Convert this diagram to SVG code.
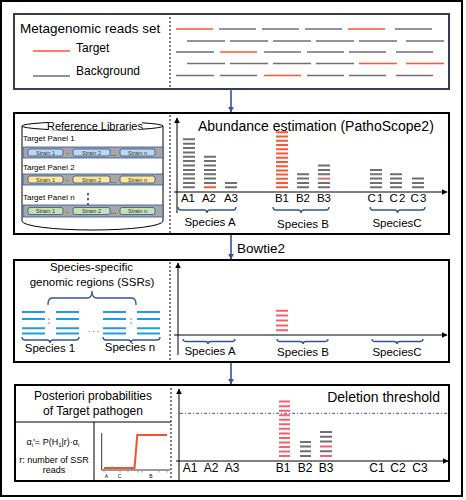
<svg xmlns="http://www.w3.org/2000/svg" width="466" height="500" viewBox="0 0 466 500">
<style>
.t{font-family:"Liberation Sans",Arial,sans-serif;fill:#000}
.m{text-anchor:middle}
.rg{stroke:#707070;stroke-width:1.6;fill:none}
.rr{stroke:#ff5533;stroke-width:1.6;fill:none}
.bg{stroke:#6f6f6f;stroke-width:2;fill:none}
.br{stroke:#ff5533;stroke-width:2;fill:none}
.bp{stroke:#f5606e;stroke-width:2;fill:none}
.dv{stroke:#000;stroke-width:1;stroke-dasharray:2 2;fill:none}
.ax{stroke:#000;stroke-width:1;fill:none}
.brace{stroke:#2f5597;stroke-width:1.3;fill:none}
.panel{fill:#fff;stroke:#000;stroke-width:2}
.band{stroke:#2f5597;stroke-width:0.8}
.pill{stroke:#2f5597;stroke-width:0.8}
.ps{font-family:"Liberation Sans",Arial,sans-serif;font-size:5.5px;text-anchor:middle;fill:#333}
.bl{stroke:#1f9de0;stroke-width:2;fill:none}
.con{stroke:#2f5597;stroke-width:1.6;fill:none}
</style>
<defs>
<marker id="ah" viewBox="0 0 10 10" refX="9" refY="5" markerWidth="6" markerHeight="6" markerUnits="userSpaceOnUse" orient="auto"><path d="M0,0L10,5L0,10z" fill="#2f5597"/></marker>
<marker id="ak" viewBox="0 0 10 10" refX="9" refY="5" markerWidth="6" markerHeight="6" markerUnits="userSpaceOnUse" orient="auto"><path d="M0,0L10,5L0,10z" fill="#000"/></marker>
</defs>
<rect x="1" y="1" width="461" height="495" fill="#fff" stroke="#000" stroke-width="2"/>

<g id="reads-panel">
<rect x="14" y="14" width="435" height="75" fill="#fff" stroke="#333f50" stroke-width="2"/>
<line class="dv" x1="170" y1="17" x2="170" y2="88"/>
<text class="t" x="20" y="32.5" font-size="13.5">Metagenomic reads set</text>
<line class="rr" x1="33" y1="51" x2="70" y2="51"/>
<text class="t" x="76" y="52" font-size="12">Target</text>
<line class="rg" x1="33" y1="76" x2="70" y2="76"/>
<text class="t" x="76" y="75" font-size="12">Background</text>
<path class="rr" d="M176 29H213M348 29H385M220 52H257M359 63.5H397M406 63.5H444M264 75.5H301"/>
<path class="rg" d="M219 29H256M262 29H299M305 29H342M395 29H432M187 41H225M230 41H268M273 41H311M316 41H354M359 41H397M406 41H444M176 52H214M264 52H301M307 52H344M349 52H386M396 52H433M187 63.5H225M230 63.5H268M273 63.5H311M316 63.5H354M176 75.5H214M220 75.5H257M307 75.5H344M349 75.5H386M396 75.5H433"/>
</g>

<g id="abundance-panel">
<rect class="panel" x="14" y="113" width="435" height="121"/>
<line class="dv" x1="170" y1="115" x2="170" y2="233"/>
<g id="reference-libraries">
<path d="M22,126V221A70.5,9 0 0 0 163,221V126" fill="#fff" stroke="#000" stroke-width="1"/>
<ellipse cx="92.5" cy="126" rx="70.5" ry="4.5" fill="#fff" stroke="#000" stroke-width="1"/>
<rect x="48" y="121" width="94" height="9" fill="#fff"/>
<text class="t m" x="95" y="129.5" font-size="11">Reference Libraries</text>
<text class="t" x="23" y="141" font-size="8">Target Panel 1</text>
<rect class="band" x="23" y="147" width="140" height="11" fill="#a6a6a6"/>
<rect class="pill" x="28" y="149" width="35" height="7" rx="2" fill="#bdd7ee"/>
<rect class="pill" x="73" y="149" width="37" height="7" rx="2" fill="#bdd7ee"/>
<rect class="pill" x="120" y="149" width="35" height="7" rx="2" fill="#bdd7ee"/>
<text class="ps" x="45.5" y="154.5">Strain 1</text><text class="ps" x="91.5" y="154.5">Strain 2</text><text class="ps" x="137.5" y="154.5">Strain n</text>
<text class="t" x="66.5" y="155" font-size="6">-</text><text class="t" x="110.5" y="155.5" font-size="7">...</text>
<text class="t" x="23" y="170" font-size="8">Target Panel 2</text>
<rect class="band" x="23" y="174" width="140" height="11" fill="#a6a6a6"/>
<rect class="pill" x="28" y="176" width="35" height="7" rx="2" fill="#ffe699"/>
<rect class="pill" x="73" y="176" width="37" height="7" rx="2" fill="#ffe699"/>
<rect class="pill" x="120" y="176" width="35" height="7" rx="2" fill="#ffe699"/>
<text class="ps" x="45.5" y="181.5">Strain 1</text><text class="ps" x="91.5" y="181.5">Strain 2</text><text class="ps" x="137.5" y="181.5">Strain n</text>
<text class="t" x="66.5" y="182" font-size="6">-</text><text class="t" x="110.5" y="182.5" font-size="7">...</text>
<text class="t" x="23" y="200" font-size="8">Target Panel n</text>
<path d="M88 193v2.2M88 198v2.2M88 203v2.2" stroke="#1f3864" stroke-width="1.6"/>
<rect class="band" x="23" y="205" width="140" height="12" fill="#a6a6a6"/>
<rect class="pill" x="28" y="207.5" width="35" height="7" rx="2" fill="#c5e0b4"/>
<rect class="pill" x="73" y="207.5" width="37" height="7" rx="2" fill="#c5e0b4"/>
<rect class="pill" x="120" y="207.5" width="35" height="7" rx="2" fill="#c5e0b4"/>
<text class="ps" x="45.5" y="213">Strain 1</text><text class="ps" x="91.5" y="213">Strain 2</text><text class="ps" x="137.5" y="213">Strain n</text>
<text class="t" x="66.5" y="213.5" font-size="6">-</text><text class="t" x="110.5" y="214" font-size="7">...</text>
</g>
<line class="ax" x1="177" y1="213" x2="177" y2="118" marker-end="url(#ak)"/>
<line class="ax" x1="174" y1="192" x2="447" y2="192" marker-end="url(#ak)"/>
<text class="t" x="198" y="131" font-size="14">Abundance estimation (PathoScope2)</text>
<path class="bg" d="M183 187.3h12M183 182.9h12M183 178.6h12M183 174.2h12M183 169.9h12M183 165.5h12M183 161.1h12M183 156.8h12M183 152.4h12M183 148.1h12M183 143.7h12M183 139.3h12M204 182.9h12M204 178.6h12M204 174.2h12M204 169.9h12M204 165.5h12M204 161.1h12M204 156.8h12M225 187.3h12M225 182.9h12M297 187.3h12M297 182.9h12M297 178.6h12M297 174.2h12M318 187.3h12M318 182.9h12M318 174.2h12M318 169.9h12M318 165.5h12M370 187.3h12M370 182.9h12M370 178.6h12M370 174.2h12M370 169.9h12M390 187.3h12M390 182.9h12M390 178.6h12M390 174.2h12M412 187.3h12M412 182.9h12M412 178.6h12"/>
<path class="br" d="M204 187.3h12M276 187.3h12M276 183.1h12M276 178.8h12M276 174.6h12M276 170.4h12M276 166.2h12M276 161.9h12M276 157.7h12M276 153.5h12M276 149.2h12M276 145h12M276 140.8h12M276 136.5h12M276 132.3h12"/>
<path class="bp" d="M318 178.6h12"/>
<g class="t m" font-size="11.5">
<text x="188" y="202">A1</text><text x="209" y="202">A2</text><text x="231" y="202">A3</text>
<text x="282" y="202">B1</text><text x="303" y="202">B2</text><text x="324" y="202">B3</text>
<text x="376" y="202" letter-spacing="1.2">C1</text><text x="398" y="202" letter-spacing="1.2">C2</text><text x="419" y="202" letter-spacing="1.2">C3</text>
</g>
<path class="brace" d="M178,207Q178,210 181,210H204Q207,210 207,213Q207,210 210,210H233Q236,210 236,207"/>
<path class="brace" d="M273,207Q273,210 276,210H298Q301,210 301,213Q301,210 304,210H326Q329,210 329,207"/>
<path class="brace" d="M370,207Q370,210 373,210H394.5Q397.5,210 397.5,213Q397.5,210 400.5,210H422Q425,210 425,207"/>
<g class="t m" font-size="11.5">
<text x="210" y="226">Species A</text><text x="303" y="227.5">Species B</text><text x="397" y="226.5">SpeciesC</text>
</g>
</g>

<g id="ssr-panel">
<rect class="panel" x="14" y="260" width="435" height="102"/>
<line class="dv" x1="170" y1="262" x2="170" y2="361"/>
<text class="t m" x="91.5" y="271" font-size="11.5">Species-specific</text>
<text class="t m" x="92" y="286" font-size="11.5">genomic regions (SSRs)</text>
<path class="brace" d="M48,305Q48,298 52,298H87Q92,298 92,291Q92,298 97,298H132Q136,298 136,305"/>
<path class="bl" d="M22 312H45M22 319H45M22 328.3H45M22 333.5H45M56 312H79M56 319H79M56 328.3H79M56 333.5H79M103 312H126M103 319H126M103 328.3H126M103 333.5H126M137 312H160M137 319H160M137 328.3H160M137 333.5H160"/>
<path d="M49 318.5v1.2M49 322.5v1.2M131 318.5v1.2M131 322.5v1.2" stroke="#000" stroke-width="0.8"/>
<text class="t" x="88" y="332" font-size="8">. . .</text>
<path class="brace" d="M22,337Q22,340 25,340H47Q50,340 50,343Q50,340 53,340H76Q79,340 79,337"/>
<path class="brace" d="M103,337Q103,340 106,340H128Q131,340 131,343Q131,340 134,340H157Q160,340 160,337"/>
<text class="t m" x="50" y="352" font-size="11.5">Species 1</text>
<text class="t m" x="130" y="351" font-size="11.5">Species n</text>
<line class="ax" x1="178" y1="355" x2="178" y2="263" marker-end="url(#ak)"/>
<line class="ax" x1="174" y1="335" x2="447" y2="335" marker-end="url(#ak)"/>
<path class="bp" d="M276 330.3h12M276 325.4h12M276 320.5h12M276 315.6h12M276 310.7h12"/>
<path class="brace" d="M183,339Q183,341.5 186,341.5H205Q208,341.5 208,344Q208,341.5 211,341.5H232Q235,341.5 235,339"/>
<path class="brace" d="M277,339Q277,341.5 280,341.5H300Q303,341.5 303,344Q303,341.5 306,341.5H325Q328,341.5 328,339"/>
<path class="brace" d="M372,339Q372,341.5 375,341.5H394Q397,341.5 397,344Q397,341.5 400,341.5H420Q423,341.5 423,339"/>
<g class="t m" font-size="11.5">
<text x="210" y="355">Species A</text><text x="303" y="356">Species B</text><text x="397" y="356">SpeciesC</text>
</g>
</g>

<g id="threshold-panel">
<rect class="panel" x="15" y="385" width="434" height="96"/>
<line class="dv" x1="171" y1="388" x2="171" y2="480"/>
<text class="t m" x="93" y="400" font-size="12">Posteriori probabilities</text>
<text class="t m" x="93" y="415" font-size="12">of Target pathogen</text>
<line x1="16" y1="422" x2="171" y2="422" stroke="#000" stroke-width="1"/>
<line x1="94" y1="422" x2="94" y2="481" stroke="#000" stroke-width="1"/>
<text class="t m" x="53" y="445" font-size="9">α<tspan font-size="6" dy="2">i</tspan><tspan dy="-2">'= P(H</tspan><tspan font-size="6" dy="2">1</tspan><tspan dy="-2">|r)·α</tspan><tspan font-size="6" dy="2">i</tspan></text>
<text class="t m" x="54" y="463" font-size="9">r: number of SSR</text>
<text class="t m" x="54" y="473" font-size="9">reads</text>
<path d="M101.7,433V470H170" stroke="#000" stroke-width="0.8" fill="none"/>
<path d="M104,468H134.5L137.3,435H167" stroke="#ff4b33" stroke-width="2" fill="none"/>
<path d="M104 471.5v0.8M120 471.5v0.8M128 471.5v0.8M138 471.5v0.8M142 471.5v0.8M159 471.5v0.8M167 471.5v0.8" stroke="#000" stroke-width="0.8"/>
<g class="t m" font-size="5"><text x="106.5" y="477.5">A</text><text x="119.5" y="477.5">C</text><text x="151" y="477.5">B</text></g>
<line class="ax" x1="179" y1="481" x2="179" y2="389" marker-end="url(#ak)"/>
<line class="ax" x1="176" y1="461" x2="448" y2="461" marker-end="url(#ak)"/>
<line x1="180" y1="413.3" x2="449" y2="413.3" stroke="#2f5597" stroke-width="1" stroke-dasharray="3 2 1 2"/>
<text class="t" x="440" y="402" font-size="14" text-anchor="end">Deletion threshold</text>
<path class="bp" d="M279 456h11M279 451.5h11M279 446.9h11M279 442.4h11M279 437.9h11M279 433.4h11M279 428.8h11M279 424.3h11M279 419.8h11M279 415.2h11M279 410.7h11M279 406.2h11M279 401.6h11M320 456h12M320 446.4h12"/>
<path class="bg" d="M300 456h11M300 451.3h11M300 446.6h11M300 441.9h11M320 451.2h12M320 441.6h12M320 436.8h12M320 432h12"/>
<g class="t m" font-size="12">
<text x="190" y="472">A1</text><text x="211" y="472">A2</text><text x="232" y="472">A3</text>
<text x="283" y="472">B1</text><text x="305" y="472">B2</text><text x="326" y="472">B3</text>
<text x="377" y="472">C1</text><text x="398" y="472">C2</text><text x="420" y="472">C3</text>
</g>
</g>

<g id="connectors">
<line class="con" x1="231" y1="89" x2="231" y2="112" marker-end="url(#ah)"/>
<line class="con" x1="231" y1="235" x2="231" y2="259" marker-end="url(#ah)"/>
<text class="t" x="237" y="253" font-size="13.5">Bowtie2</text>
<line class="con" x1="231" y1="363" x2="231" y2="384" marker-end="url(#ah)"/>
</g>
</svg>
